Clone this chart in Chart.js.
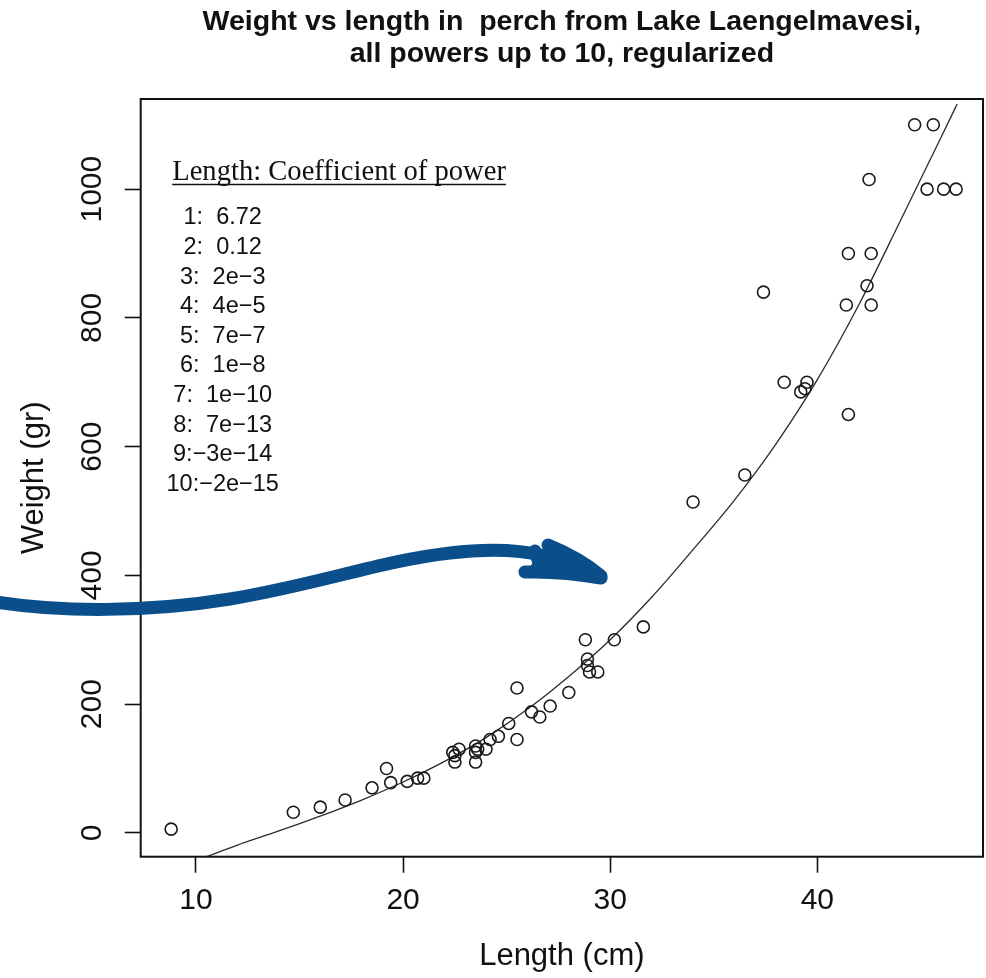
<!DOCTYPE html>
<html>
<head>
<meta charset="utf-8">
<title>Perch weight vs length</title>
<script src="https://cdn.jsdelivr.net/npm/chart.js@4.4.1/dist/chart.umd.min.js"></script>
<style>
  html, body { margin: 0; padding: 0; background: #fff; }
  canvas { display: block; }
</style>
</head>
<body>
<canvas id="chart" width="986" height="978"></canvas>
<script>
// Perch measurements: length (cm) and weight (gr)
const lengthCm = [
  8.8, 14.7, 16.0, 17.2, 18.5, 19.2, 19.4, 20.2, 20.7, 21.0,
  22.4, 22.5, 22.5, 22.7, 23.5, 23.5, 23.5, 23.6, 24.0, 24.2,
  24.6, 25.1, 25.5, 25.5, 26.2, 26.6, 27.1, 28.0, 28.8, 28.9,
  28.9, 29.0, 29.4, 30.2, 31.6, 34.0, 36.5, 37.4, 38.4, 39.2,
  39.4, 39.5, 41.4, 41.5, 41.5, 42.4, 42.5, 42.6, 42.6, 44.7,
  45.3, 45.6, 46.1, 46.7
];
const weightGr = [
  5.9, 32, 40, 51, 70, 100, 78, 80, 85, 85,
  125, 120, 110, 130, 135, 125, 110, 130, 130, 145,
  150, 170, 145, 225, 188, 180, 197, 218, 300, 270,
  260, 250, 250, 300, 320, 514, 556, 840, 700, 685,
  690, 700, 820, 650, 900, 850, 1015, 900, 820, 1100,
  1000, 1100, 1000, 1000
];

// Regularized polynomial fit, sampled along the length range
const fitLength = [10.5, 12, 14, 16, 18, 20, 22, 24, 26, 28, 30, 32, 34, 36, 38, 40, 42, 44, 46, 46.75];
const fitWeight = [-37, -19, 3, 26, 51, 79, 111, 148, 192, 243, 300, 366, 440, 517, 604, 704, 820, 950, 1082, 1132];

const xTicks = [10, 20, 30, 40];
const yTicks = [0, 200, 400, 600, 800, 1000];

const titleLines = [
  'Weight vs length in  perch from Lake Laengelmavesi,',
  'all powers up to 10, regularized'
];
const coefHeading = 'Length: Coefficient of power';
const coefLabels = [
  '1:  6.72', '2:  0.12', '3:  2e\u22123', '4:  4e\u22125', '5:  7e\u22127',
  '6:  1e\u22128', '7:  1e\u221210', '8:  7e\u221213', '9:\u22123e\u221214', '10:\u22122e\u221215'
];

const SANS = "'Liberation Sans', Arial, Helvetica, sans-serif";
const SERIF = "'Liberation Serif', 'Times New Roman', serif";
const INK = '#111111';

// Full box around the plotting region
const framePlugin = {
  id: 'frame',
  afterDatasetsDraw(chart) {
    const { ctx, chartArea: a } = chart;
    ctx.save();
    ctx.strokeStyle = INK;
    ctx.lineWidth = 2;
    ctx.strokeRect(a.left, a.top, a.right - a.left, a.bottom - a.top);
    ctx.restore();
  }
};

// Coefficient table in the upper-left corner of the plot
const coefPlugin = {
  id: 'coefTable',
  afterDraw(chart) {
    const { ctx, chartArea: a } = chart;
    ctx.save();
    ctx.fillStyle = INK;
    ctx.strokeStyle = INK;
    ctx.font = '28.6px ' + SERIF;
    ctx.textAlign = 'left';
    ctx.textBaseline = 'alphabetic';
    const hx = a.left + 31.5, hy = a.top + 80.5;
    ctx.fillText(coefHeading, hx, hy);
    const w = ctx.measureText(coefHeading).width;
    ctx.lineWidth = 1.5;
    ctx.beginPath();
    ctx.moveTo(hx, hy + 5);
    ctx.lineTo(hx + w, hy + 5);
    ctx.stroke();

    ctx.font = '23.5px ' + SANS;
    ctx.textAlign = 'center';
    ctx.textBaseline = 'middle';
    coefLabels.forEach((s, i) => {
      ctx.fillText(s, a.left + 82, a.top + 119 + i * 29.6);
    });
    ctx.restore();
  }
};

// Hand-drawn blue arrow pointing at the fitted curve
const arrowPlugin = {
  id: 'arrow',
  afterDraw(chart) {
    const ctx = chart.ctx;
    ctx.save();
    ctx.strokeStyle = '#0a4f8b';
    ctx.fillStyle = '#0a4f8b';
    ctx.lineWidth = 13;
    ctx.lineCap = 'round';
    ctx.lineJoin = 'round';
    ctx.beginPath();
    ctx.moveTo(-10, 601);
    ctx.bezierCurveTo(60, 613, 150, 612, 230, 599);
    ctx.bezierCurveTo(320, 584, 380, 561, 450, 553);
    ctx.bezierCurveTo(500, 547, 545, 551, 575, 566);
    ctx.stroke();

    ctx.beginPath();
    ctx.moveTo(548, 545);
    ctx.quadraticCurveTo(580, 558, 601, 576);
    ctx.stroke();
    ctx.beginPath();
    ctx.moveTo(525, 572);
    ctx.quadraticCurveTo(562, 571, 601, 578);
    ctx.stroke();
    ctx.beginPath();
    ctx.moveTo(535, 551);
    ctx.lineTo(540, 566);
    ctx.stroke();
    ctx.beginPath();
    ctx.moveTo(538, 556);
    ctx.lineTo(600, 577);
    ctx.lineTo(526, 572);
    ctx.closePath();
    ctx.fill();
    ctx.restore();
  }
};

const tickGrid = {
  display: true,
  drawOnChartArea: false,
  drawTicks: true,
  tickLength: 16,
  tickWidth: 1.6,
  color: INK
};

new Chart(document.getElementById('chart'), {
  data: {
    datasets: [
      {
        type: 'scatter',
        label: 'Perch',
        data: lengthCm.map((x, i) => ({ x: x, y: weightGr[i] })),
        pointStyle: 'circle',
        pointRadius: 6,
        pointBorderWidth: 1.6,
        borderColor: '#1a1a1a',
        backgroundColor: 'rgba(0,0,0,0)',
        order: 1
      },
      {
        type: 'line',
        label: 'Fit',
        data: fitLength.map((x, i) => ({ x: x, y: fitWeight[i] })),
        borderColor: '#2a2a2a',
        borderWidth: 1.3,
        pointRadius: 0,
        cubicInterpolationMode: 'monotone',
        fill: false,
        order: 2
      }
    ]
  },
  options: {
    responsive: false,
    animation: false,
    devicePixelRatio: 1,
    layout: { autoPadding: false, padding: { left: 0, right: 3, top: 0, bottom: 0 } },
    plugins: {
      legend: { display: false },
      tooltip: { enabled: false },
      title: {
        display: true,
        text: titleLines,
        fullSize: false,
        color: INK,
        font: { family: SANS, size: 28.5, weight: 'bold', lineHeight: '32px' },
        padding: { top: 6.5, bottom: 28.5 }
      }
    },
    scales: {
      x: {
        type: 'linear',
        min: 7.33,
        max: 48.0,
        afterBuildTicks: s => { s.ticks = xTicks.map(v => ({ value: v })); },
        afterFit: s => { s.height = 121.3; s.paddingLeft = 0; s.paddingRight = 0; },
        grid: tickGrid,
        border: { display: false },
        ticks: {
          color: INK,
          font: { family: SANS, size: 30 },
          padding: 10,
          maxRotation: 0,
          autoSkip: false,
          callback: v => String(v)
        },
        title: {
          display: true,
          text: 'Length (cm)',
          color: INK,
          font: { family: SANS, size: 31 },
          padding: { top: 0, bottom: 3.4 }
        }
      },
      y: {
        type: 'linear',
        min: -37,
        max: 1140,
        afterBuildTicks: s => { s.ticks = yTicks.map(v => ({ value: v })); },
        afterFit: s => { s.width = 140.7; s.paddingTop = 0; s.paddingBottom = 0; },
        grid: tickGrid,
        border: { display: false },
        ticks: {
          color: INK,
          font: { family: SANS, size: 30 },
          minRotation: 90,
          maxRotation: 90,
          crossAlign: 'center',
          padding: -1,
          autoSkip: false,
          callback: v => String(v)
        },
        title: {
          display: true,
          text: 'Weight (gr)',
          color: INK,
          font: { family: SANS, size: 31 },
          padding: { top: 16, bottom: 0 }
        }
      }
    }
  },
  plugins: [framePlugin, coefPlugin, arrowPlugin]
});
</script>
</body>
</html>
